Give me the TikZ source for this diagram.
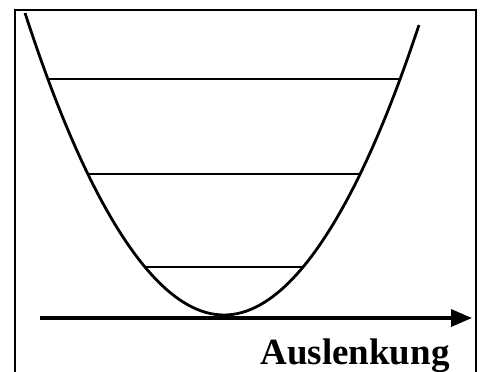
\documentclass[tikz,border=0pt]{standalone}
\usepackage{fontspec}
\setmainfont{Liberation Serif}
\usetikzlibrary{positioning,arrows.meta}

\begin{document}
\begin{tikzpicture}[
  x=1pt, y=-1pt,
  frame/.style={line width=2pt},
  curve/.style={line width=2.8pt},
  level/.style={line width=2.8pt},
  axis/.style={line width=3.4pt, -{Triangle[length=21pt,width=17pt]}},
  labl/.style={font=\bfseries\fontsize{37}{40}\selectfont, inner sep=0pt, anchor=base}
]
\useasboundingbox (0,0) rectangle (483,372);

% frame (bottom edge lies outside the picture)
\draw[frame] (15,372) -- (15,10) -- (476,10) -- (476,372);

% potential curve
\coordinate (left)   at (25,13);
\coordinate (bottom) at (224,315);
\coordinate (right)  at (419,25);
\draw[curve] (left) parabola bend (bottom) (right);

% levels (x = 224 -+ sqrt((315-y)/0.00763))
\coordinate (L1a) at (48,79);  \coordinate (L1b) at (400,79);
\coordinate (L2a) at (88,174); \coordinate (L2b) at (360,174);
\coordinate (L3a) at (146,267); \coordinate (L3b) at (302,267);
\draw[level] (L1a) -- (L1b);
\draw[level] (L2a) -- (L2b);
\draw[level] (L3a) -- (L3b);

% axis
\coordinate (ax0) at (40,318);
\coordinate (ax1) at (472,318);
\draw[axis] (ax0) -- (ax1);
\node[labl] (auslenkung) at (355,364) {Auslenkung};
\end{tikzpicture}
\end{document}
